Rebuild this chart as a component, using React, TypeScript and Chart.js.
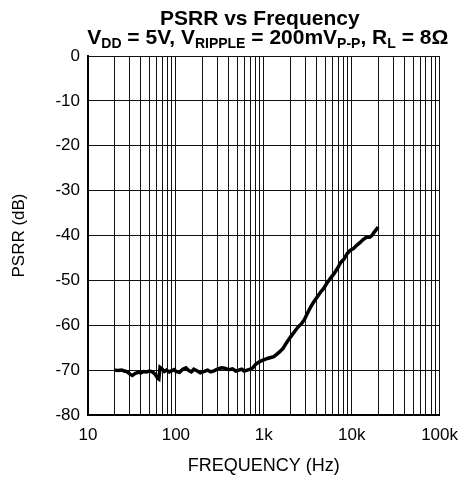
import React, { useEffect, useRef } from "react";
import { Chart, registerables } from "chart.js";

Chart.register(...registerables);

const freqHz = [
  20, 22, 24, 26, 28, 30, 32, 34, 37, 40, 43, 46, 50, 54, 58, 62, 64, 66, 70, 74, 78, 84, 90, 96,
  100, 110, 120, 130, 140, 150, 160, 175, 190, 210, 230, 250, 275, 300, 330, 360, 400, 440, 480,
  520, 560, 600, 650, 700, 750, 800, 850, 900, 950, 1000, 1100, 1200, 1300, 1400, 1500, 1650, 1800,
  2000, 2200, 2450, 2700, 2900, 3200, 3450, 3700, 4050, 4400, 4800, 5200, 5700, 6300, 6900, 7500,
  8200, 8900, 9600, 10500, 11400, 12400, 13500, 14700, 16000, 17000, 18000, 19000, 20000,
];

const psrrDb = [
  -70.0, -70.1, -70.0, -70.2, -70.4, -70.9, -71.2, -70.8, -70.5, -70.6, -70.3, -70.4, -70.2, -70.4,
  -70.9, -71.8, -72.0, -69.4, -69.8, -70.3, -70.0, -70.4, -70.1, -69.9,
  -70.3, -70.5, -69.8, -69.5, -70.1, -70.4, -69.8, -70.2, -70.6, -70.3, -70.0, -70.4, -70.1, -69.7,
  -69.5, -69.6, -69.9, -69.7, -70.2, -70.0, -69.8, -70.2, -70.0, -69.8, -69.5, -68.8, -68.4, -68.1,
  -67.9, -67.7, -67.4, -67.2, -67.0, -66.5, -66.0, -65.2, -64.0,
  -62.7, -61.6, -60.4, -59.6, -58.7, -57.0, -55.8, -54.8, -53.7, -52.7, -51.8, -50.7, -49.6, -48.5,
  -47.3, -46.0, -45.2, -44.0, -43.3, -42.9, -42.2, -41.6, -40.9, -40.4, -40.4, -40.0, -39.3, -38.7,
  -38.1,
];

const xDecades = [10, 100, 1000, 10000, 100000];
const xTickLabels = ["10", "100", "1k", "10k", "100k"];
const yTicks = [0, -10, -20, -30, -40, -50, -60, -70, -80];

const titleLine1 = "PSRR vs Frequency";
// [text, isSubscript]
const titleLine2: [string, boolean][] = [
  ["V", false],
  ["DD", true],
  [" = 5V, V", false],
  ["RIPPLE", true],
  [" = 200mV", false],
  ["P-P", true],
  [", R", false],
  ["L", true],
  [" = 8Ω", false],
];
const xTitle = "FREQUENCY (Hz)";
const yTitle = "PSRR (dB)";

const FONT = "'Liberation Sans', Arial, sans-serif";

const titlePlugin = {
  id: "richTitle",
  afterDraw(chart: any) {
    const ctx = chart.ctx;
    const ca = chart.chartArea;
    const cx = (ca.left + ca.right) / 2;
    ctx.save();
    ctx.fillStyle = "#000";
    ctx.textBaseline = "alphabetic";
    ctx.textAlign = "left";
    const mainFont = `bold 21px ${FONT}`;
    const subFont = `bold 14px ${FONT}`;
    ctx.font = mainFont;
    const w1 = ctx.measureText(titleLine1).width;
    ctx.fillText(titleLine1, cx - 4 - w1 / 2, 25);
    let total = 0;
    for (const [t, sub] of titleLine2) {
      ctx.font = sub ? subFont : mainFont;
      total += ctx.measureText(t).width;
    }
    let x = cx + 4 - total / 2;
    for (const [t, sub] of titleLine2) {
      ctx.font = sub ? subFont : mainFont;
      ctx.fillText(t, x, sub ? 48 : 44);
      x += ctx.measureText(t).width;
    }
    ctx.restore();
  },
};

export default function App() {
  const ref = useRef<HTMLCanvasElement>(null);
  useEffect(() => {
    if (!ref.current) return;
    Chart.defaults.font.family = FONT;
    Chart.defaults.color = "#000";
    const chart = new Chart(ref.current, {
      type: "line",
      data: {
        datasets: [
          {
            data: freqHz.map((f, i) => ({ x: f, y: psrrDb[i] })),
            borderColor: "#000",
            borderWidth: 3.5,
            pointRadius: 0,
            tension: 0,
            fill: false,
          },
        ],
      },
      options: {
        animation: false,
        responsive: true,
        maintainAspectRatio: false,
        layout: { padding: { top: 56, right: 20, left: 0, bottom: 0 } },
        plugins: { legend: { display: false }, title: { display: false }, tooltip: { enabled: false } },
        scales: {
          x: {
            type: "logarithmic",
            min: 10,
            max: 100000,
            afterFit: (s: any) => {
              s.height = 66;
            },
            afterBuildTicks: (s: any) => {
              const t: any[] = [];
              for (const d of xDecades) {
                for (let m = 1; m <= 9; m++) {
                  const v = d * m;
                  if (v <= 100000) t.push({ value: v });
                }
              }
              s.ticks = t;
            },
            ticks: {
              autoSkip: false,
              maxRotation: 0,
              padding: 10,
              font: { size: 17 },
              callback: (v: any) => {
                const i = xDecades.indexOf(Number(v));
                return i >= 0 ? xTickLabels[i] : "";
              },
            },
            grid: { color: "#111", lineWidth: 1, drawTicks: false },
            border: { color: "#000", width: 2 },
            title: { display: true, text: xTitle, font: { size: 18 }, padding: { top: 0, bottom: 4 } },
          },
          y: {
            type: "linear",
            min: -80,
            max: 0,
            afterFit: (s: any) => {
              s.width = 88;
            },
            afterBuildTicks: (s: any) => {
              s.ticks = yTicks.map((v) => ({ value: v }));
            },
            ticks: { padding: 8, font: { size: 17 } },
            grid: { color: "#111", lineWidth: 1, drawTicks: false },
            border: { color: "#000", width: 2 },
            title: { display: true, text: yTitle, font: { size: 17 }, padding: { top: 9, bottom: 0 } },
          },
        },
      },
      plugins: [titlePlugin],
    });
    return () => chart.destroy();
  }, []);
  return (
    <div style={{ position: "fixed", left: 0, top: 0, width: 468, height: 481, background: "#fff" }}>
      <canvas ref={ref} />
    </div>
  );
}
